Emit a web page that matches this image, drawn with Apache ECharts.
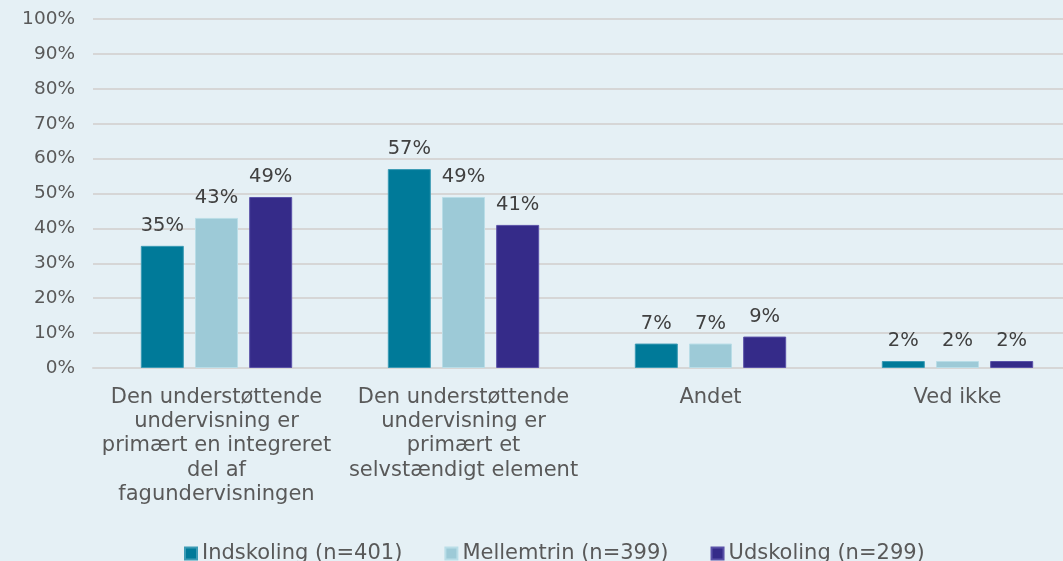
<!DOCTYPE html>
<html>
<head>
<meta charset="utf-8">
<script src="https://cdn.jsdelivr.net/npm/echarts@6/dist/echarts.min.js"></script>
<style>
  html, body { margin: 0; padding: 0; background: #e5f0f5; }
  #chart { width: 1063px; height: 561px; }
</style>
</head>
<body>
<div id="chart"></div>
<script>
// Categories (line breaks as they appear on the axis)
const categories = [
  'Den understøttende\nundervisning er\nprimært en integreret\ndel af\nfagundervisningen',
  'Den understøttende\nundervisning er\nprimært et\nselvstændigt element',
  'Andet',
  'Ved ikke'
];
const seriesNames = ['Indskoling (n=401)', 'Mellemtrin (n=399)', 'Udskoling (n=299)'];
const indskoling = [35, 57, 7, 2];
const mellemtrin = [43, 49, 7, 2];
const udskoling = [49, 41, 9, 2];
const yTicks = [0, 10, 20, 30, 40, 50, 60, 70, 80, 90, 100];

const colors = ['#007a99', '#9dcad7', '#352b89'];
const borders = ['#3c9bb5', '#b9dde7', '#5a52a8'];
const FONT = '"DejaVu Sans", Verdana, sans-serif';

const chart = echarts.init(document.getElementById('chart'), null, { renderer: 'canvas' });

function makeSeries(name, data, i) {
  return {
    name: name,
    type: 'bar',
    data: data,
    barWidth: 43,
    barGap: '26%',
    itemStyle: { color: colors[i], borderColor: borders[i], borderWidth: 1 },
    label: {
      show: true,
      position: 'top',
      distance: 10,
      formatter: p => p.value + '%',
      color: '#404040',
      fontFamily: FONT,
      fontSize: 19.5
    }
  };
}

chart.setOption({
  backgroundColor: '#e5f0f5',
  animation: false,
  color: colors,
  // plot area runs past the right edge of the canvas
  grid: { left: 93, width: 988, top: 19, bottom: 193, containLabel: false, outerBoundsMode: 'none' },
  legend: {
    left: 179,
    top: 538,
    itemWidth: 12,
    itemHeight: 12,
    itemGap: 42,
    icon: 'rect',
    textStyle: { color: '#595959', fontFamily: FONT, fontSize: 21 },
    data: seriesNames
  },
  xAxis: {
    type: 'category',
    data: categories,
    axisLine: { show: true, lineStyle: { color: '#d6d6d6', width: 2 } },
    axisTick: { show: false },
    axisLabel: {
      interval: 0,
      margin: 17,
      color: '#595959',
      fontFamily: FONT,
      fontSize: 21,
      lineHeight: 24.3,
      align: 'center'
    }
  },
  yAxis: {
    type: 'value',
    min: yTicks[0],
    max: yTicks[yTicks.length - 1],
    interval: 10,
    axisLine: { show: false },
    axisTick: { show: false },
    splitLine: { lineStyle: { color: '#d6d6d6', width: 2 } },
    axisLabel: {
      margin: 18,
      color: '#595959',
      fontFamily: FONT,
      fontSize: 18.5,
      formatter: v => v + '%'
    }
  },
  series: [
    makeSeries(seriesNames[0], indskoling, 0),
    makeSeries(seriesNames[1], mellemtrin, 1),
    makeSeries(seriesNames[2], udskoling, 2)
  ]
});
</script>
</body>
</html>
